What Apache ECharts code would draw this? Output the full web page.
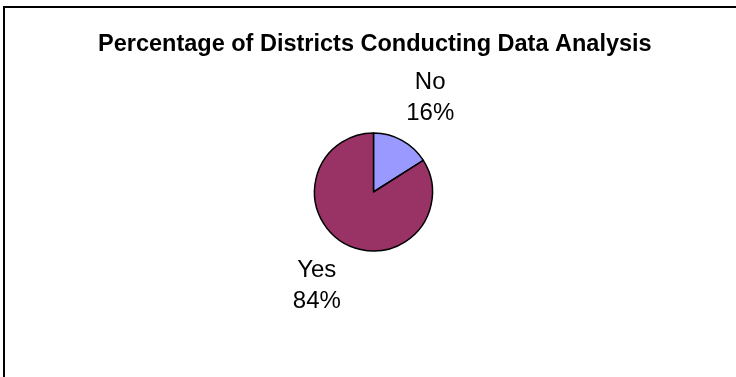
<!DOCTYPE html>
<html>
<head>
<meta charset="utf-8">
<script src="https://cdn.jsdelivr.net/npm/echarts@6/dist/echarts.min.js"></script>
<style>
  html, body { margin: 0; padding: 0; background: #fff; }
  #chart { width: 736px; height: 377px; }
</style>
</head>
<body>
<div id="chart"></div>
<script>
// Survey result: share of districts conducting data analysis
const categories = ['No', 'Yes'];
const shares = [16, 84];
const sliceColors = ['#9999FF', '#993366'];

const pieCenter = [373.5, 192];
const pieRadius = 59;
const labelDistance = 107; // from pie centre to label centre

const total = shares.reduce((a, b) => a + b, 0);

const chart = echarts.init(document.getElementById('chart'), null, { renderer: 'canvas' });

chart.setOption({
  animation: false,
  backgroundColor: '#ffffff',
  title: {
    text: 'Percentage of Districts Conducting Data Analysis',
    left: 93,
    top: 28,
    textStyle: {
      fontFamily: 'Liberation Sans, Arial, sans-serif',
      fontWeight: 'bold',
      fontSize: 23.5,
      color: '#000'
    }
  },
  graphic: [{
    type: 'rect',
    shape: { x: 4, y: 7, width: 800, height: 420 },
    style: { fill: 'none', stroke: '#000', lineWidth: 2 },
    silent: true
  }],
  series: [{
    type: 'pie',
    center: pieCenter,
    radius: pieRadius,
    startAngle: 90,
    clockwise: true,
    data: categories.map((name, i) => ({
      name,
      value: shares[i],
      itemStyle: { color: sliceColors[i] }
    })),
    itemStyle: { borderColor: '#000', borderWidth: 1.5 },
    label: {
      show: true,
      position: 'outside',
      formatter: p => p.name + '\n' + p.value + '%',
      fontFamily: 'Liberation Sans, Arial, sans-serif',
      fontSize: 24,
      lineHeight: 31,
      color: '#000',
      align: 'center'
    },
    labelLine: { show: false },
    labelLayout: function (params) {
      // place each label along its slice's mid-angle
      let before = 0;
      for (let i = 0; i < params.dataIndex; i++) before += shares[i];
      const mid = (before + shares[params.dataIndex] / 2) / total * Math.PI * 2;
      return {
        x: pieCenter[0] + Math.sin(mid) * labelDistance * 1.1,
        y: pieCenter[1] - Math.cos(mid) * labelDistance,
        align: 'center',
        verticalAlign: 'middle'
      };
    },
    emphasis: { disabled: true }
  }]
});
</script>
</body>
</html>
